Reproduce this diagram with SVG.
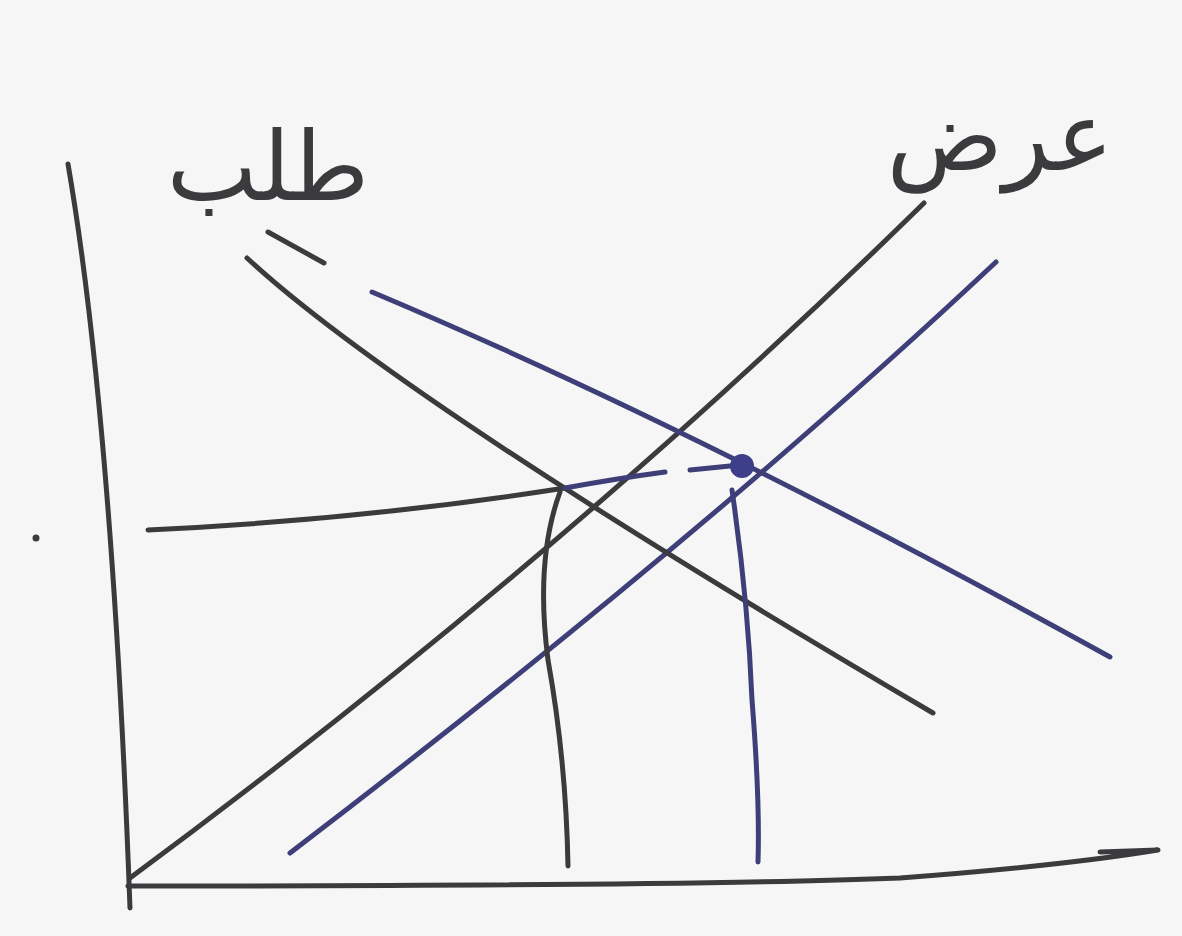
<svg xmlns="http://www.w3.org/2000/svg" width="1182" height="936" viewBox="0 0 1182 936">
<style>
.ink{fill:none;stroke:#3b3b3e;stroke-width:5;stroke-linecap:round;stroke-linejoin:round}
.blue{fill:none;stroke:#3e3f78;stroke-width:5;stroke-linecap:round;stroke-linejoin:round}
.lbl{font-family:"DejaVu Sans",sans-serif;font-size:96px;fill:#3b3b3e}
</style>
<rect width="1182" height="936" fill="#f6f6f6"/>
<g id="axes">
<path class="ink" d="M68,164 Q112,420 130,908"/>
<path class="ink" d="M128,886 Q700,886 900,878 Q1060,866 1158,850 L1100,852"/>
</g>
<g id="connectors">
<path id="S1" class="ink" d="M130,878 Q560,560 924,203"/>
<path id="S2" class="blue" d="M290,853 Q700,540 996,262"/>
<path id="D1" class="ink" d="M247,258 Q400,400 933,713"/>
<path id="D2" class="blue" d="M372,292 Q700,430 1110,657"/>
<path id="P1" class="ink" d="M148,530 Q360,520 565,488"/>
<path id="P1b" class="blue" d="M565,488 Q620,478 665,472"/>
<path id="P2" class="blue" d="M690,470 L740,465"/>
<path id="Q1" class="ink" d="M560,492 Q535,560 548,660 Q566,760 568,866"/>
<path id="Q2" class="blue" d="M732,490 Q748,600 752,700 Q760,800 758,862"/>
<line class="ink" x1="268" y1="232" x2="324" y2="263"/>
</g>
<g id="equilibrium">
<circle cx="742" cy="466" r="12" fill="#3e3f8a"/>
<circle cx="36" cy="538" r="3.5" fill="#3b3b3e"/>
</g>
<g id="label-demand">
<text class="lbl" x="268" y="200" text-anchor="middle">طلب</text>
</g>
<g id="label-supply">
<text class="lbl" x="1000" y="170" text-anchor="middle">عرض</text>
</g>
</svg>
